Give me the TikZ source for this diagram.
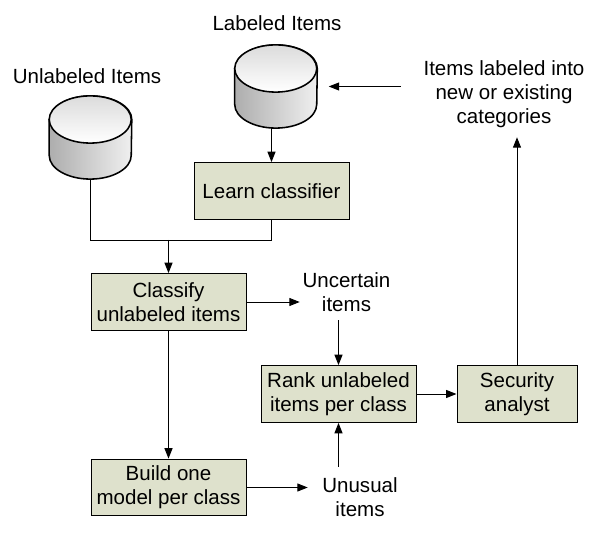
\documentclass[tikz,border=0pt]{standalone}
\usepackage{fontspec}
\setmainfont{Liberation Sans}
\usetikzlibrary{arrows.meta, positioning, calc}
\definecolor{boxgreen}{RGB}{222,225,204}
\newcommand{\dbshape}[1]{
  \draw[dbline,left color=black!32,right color=black!6]
    ([yshift=.45cm]#1.west) -- ([yshift=-.45cm]#1.west)
    arc[start angle=180,end angle=360,x radius=1.025cm,y radius=.59cm]
    -- ([yshift=.45cm]#1.east)
    arc[start angle=0,end angle=180,x radius=1.025cm,y radius=.59cm] -- cycle;
  \draw[dbline,top color=black!14,bottom color=white]
    ([yshift=.45cm]#1.west)
    arc[start angle=180,end angle=-180,x radius=1.025cm,y radius=.59cm] -- cycle;
}

\begin{document}
\begin{tikzpicture}[
  stepbox/.style={rectangle,draw,fill=boxgreen,line width=.7pt,align=center,
                  minimum width=3.875cm,minimum height=1.42cm,inner sep=0pt,
                  font=\fontsize{14.6}{17}\selectfont},
  lbl/.style={align=center,inner sep=0pt,font=\fontsize{14.6}{17}\selectfont},
  dbnode/.style={rectangle,inner sep=0pt,minimum width=2.05cm,minimum height=2.08cm},
  dbline/.style={line width=1.1pt,draw=black},
  arr/.style={-{Triangle[length=.26cm,width=.2cm]},line width=.7pt},
  line/.style={line width=.7pt}
]
\useasboundingbox (0,0) rectangle (14.9,13.375);
\node[dbnode] (unlab) at (2.2625,9.9375) {};
\node[dbnode] (lab)   at (6.9,11.2125) {};
\dbshape{unlab}
\dbshape{lab}
\node[lbl] (unlabtxt) at (2.175,11.475) {Unlabeled Items};
\node[lbl] (labtxt)   at (6.925,12.8) {Labeled Items};
\node[lbl,minimum width=5.15cm,minimum height=2.15cm] (items) at (12.6,11.025)
  {Items labeled into\\new or existing\\categories};
\node[lbl,minimum width=2.325cm,minimum height=1.4cm] (uncertain) at (8.6625,6.075) {Uncertain\\items};
\node[lbl,minimum width=2.6cm,minimum height=1.5cm] (unusual) at (9,.95) {Unusual\\items};
\node[stepbox] (learn)    at (6.7875,8.6)  {Learn classifier};
\node[stepbox] (classify) at (4.2125,5.825) {Classify\\unlabeled items};
\node[stepbox] (rank)     at (8.4625,3.525) {Rank unlabeled\\items per class};
\node[stepbox,minimum width=3cm] (analyst) at (12.925,3.525) {Security\\analyst};
\node[stepbox] (build)    at (4.2125,1.1875) {Build one\\model per class};
\coordinate (merge) at (4.2125,7.375);
\draw[arr] (learn.north |- lab.south) -- (learn.north);
\draw[line] (unlab.south) |- (merge);
\draw[line] (learn.south) |- (merge);
\draw[arr] (merge) -- (classify.north);
\draw[arr] (classify.south) -- (build.north);
\draw[arr] (classify.east) -- (uncertain.west |- classify.east);
\draw[arr] (rank.north |- uncertain.south) -- (rank.north);
\draw[arr] (build.east) -- (unusual.west |- build.east);
\draw[arr] (rank.south |- unusual.north) -- (rank.south);
\draw[arr] (rank.east) -- (analyst.west);
\draw[arr] (analyst.north) -- (analyst.north |- items.south);
\draw[arr] (items.west |- lab.center) -- ++(-1.8,0);
\end{tikzpicture}
\end{document}
